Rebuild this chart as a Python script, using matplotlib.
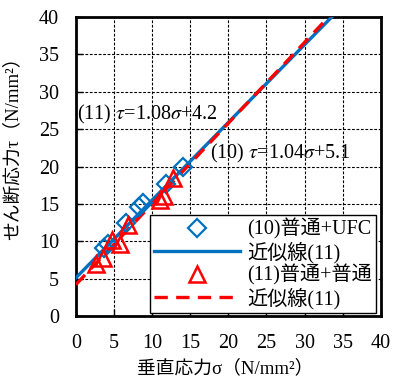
import matplotlib
matplotlib.use('Agg')
import matplotlib.pyplot as plt
import numpy as np

plt.rcParams['font.family'] = ['Liberation Serif', 'Noto Sans CJK JP']
plt.rcParams['mathtext.fontset'] = 'stix'

# (10) 普通+UFC
sig10 = [3.7, 4.2, 6.6, 8.3, 8.8, 11.8, 14.0]
tau10 = [9.1, 9.6, 12.4, 14.6, 15.1, 17.6, 19.9]
# (11) 普通+普通
sig11 = [2.7, 3.6, 4.7, 5.8, 6.9, 11.0, 11.6, 12.8]
tau11 = [7.0, 7.7, 10.2, 9.7, 12.2, 15.5, 16.0, 18.4]
# fits
fit10 = (1.04, 5.1)
fit11 = (1.08, 4.2)
fit_x = [0, 40]

ticks = [0, 5, 10, 15, 20, 25, 30, 35, 40]
blue = '#0070C0'
red = '#FF0000'

fig = plt.figure(figsize=(3.93, 3.78), dpi=100)
ax = fig.add_axes([0.193, 0.164, 0.776, 0.791])

ax.plot(sig10, tau10, 'D', ms=9, mfc='none', mec=blue, mew=1.6,
        label='(10)普通+UFC', zorder=4)
ax.plot(fit_x, [fit10[0] * x + fit10[1] for x in fit_x], '-', color=blue, lw=2.4,
        label='近似線(11)', zorder=3)
ax.plot(sig11, tau11, '^', ms=11, mfc='none', mec=red, mew=1.8,
        label='(11)普通+普通', zorder=5)
ax.plot(fit_x, [fit11[0] * x + fit11[1] for x in fit_x], '--', color=red, lw=2.4,
        dashes=(4, 2.5), label='近似線(11)', zorder=3)

ax.set_xlim(0, 40)
ax.set_ylim(0, 40)
ax.set_xticks(ticks)
ax.set_yticks(ticks)
ax.grid(True, color='black', ls='--', lw=0.8, dashes=(2.5, 1.5))
ax.set_axisbelow(True)
for s in ax.spines.values():
    s.set_linewidth(2)
ax.tick_params(direction='in', labelsize=14.5, length=5, width=1)
ax.tick_params(axis='y', pad=12)
ax.tick_params(axis='x', pad=13)

ax.text(0.1, 26.9, r'(11) $\tau$=1.08$\sigma$+4.2', fontsize=14.5, va='center', ha='left')
ax.text(17.6, 21.8, r'(10) $\tau$=1.04$\sigma$+5.1', fontsize=14.5, va='center', ha='left')

ax.set_xlabel('垂直応力σ（N/mm²）', fontsize=13.5)
ax.set_ylabel('せん断応力τ（N/mm²）', fontsize=13.5)
ax.xaxis.set_label_coords(0.49, -0.145)
ax.yaxis.set_label_coords(-0.178, 0.575)

leg = ax.legend(loc='lower right', bbox_to_anchor=(0.985, 0.01), borderaxespad=0,
                fontsize=14.5, labelspacing=0.08, handlelength=4.3, handletextpad=0.35,
                borderpad=0.2, fancybox=False, framealpha=1, edgecolor='black')
leg.get_frame().set_linewidth(1)

fig.savefig('out.png', dpi=100)
